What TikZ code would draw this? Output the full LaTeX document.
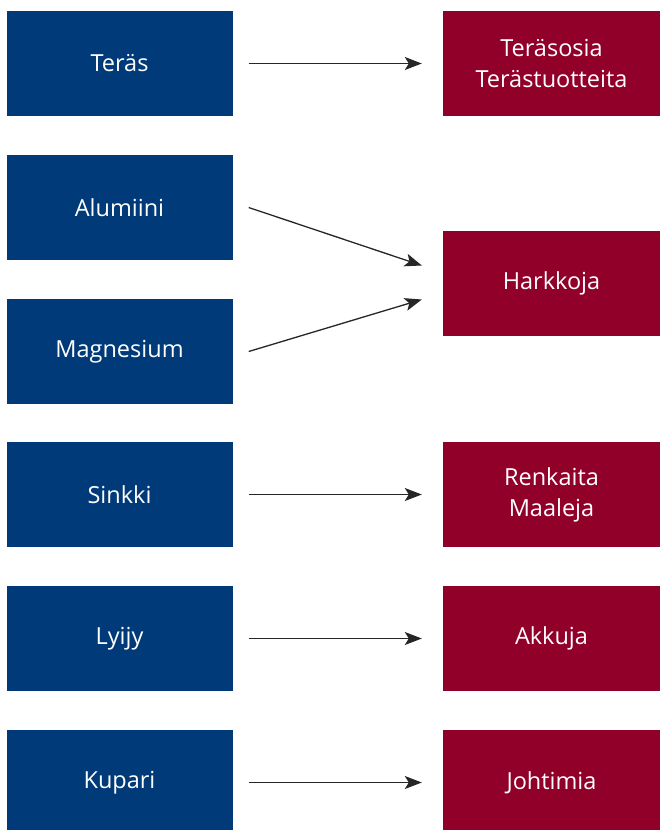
\documentclass[tikz,border=0pt]{standalone}
\usepackage{fontspec}
\setmainfont{Open Sans}
\usetikzlibrary{arrows.meta}
\definecolor{metalblue}{RGB}{0,58,120}
\definecolor{productred}{RGB}{145,0,41}
\tikzset{
    metal/.style={fill=metalblue,text=white,minimum width=226pt,minimum height=105pt,inner sep=0pt,align=center},
    product/.style={fill=productred,text=white,minimum width=217pt,minimum height=105pt,inner sep=0pt,align=center},
    flow/.style={-{Stealth[length=17pt,width=13pt,inset=4pt]},line width=1.3pt,black!85}
}
\begin{document}
\begin{tikzpicture}[x=1pt,y=-1pt,font=\fontsize{23.5}{31}\selectfont]
                \useasboundingbox (0,0) rectangle (660,830);
                \clip (0,0) rectangle (660,830);
                % raw materials
                \node[metal] (teras) at (119.5,63.5) {Teräs};
                \node[metal] (alumiini) at (119.5,207.5) {Alumiini};
                \node[metal] (magnesium) at (119.5,351.5) {Magnesium};
                \node[metal] (sinkki) at (119.5,494.5) {Sinkki};
                \node[metal] (lyijy) at (119.5,638.5) {Lyijy};
                \node[metal] (kupari) at (119.5,782.5) {Kupari};
                % products
                \node[product] (terasosia) at (551.5,63.5) {Teräsosia\\Terästuotteita};
                \node[product] (harkkoja) at (551.5,283.5) {Harkkoja};
                \node[product] (renkaita) at (551.5,494.5) {Renkaita\\Maaleja};
                \node[product] (akkuja) at (551.5,638.5) {Akkuja};
                \node[product] (johtimia) at (551.5,782.5) {Johtimia};
                % arrows
                \draw[flow,shorten <=16pt,shorten >=21pt] (teras.east) -- (terasosia.west);
                \draw[flow] ([xshift=16pt]alumiini.east) -- ([xshift=-21pt,yshift=18pt]harkkoja.west);
                \draw[flow] ([xshift=16pt]magnesium.east) -- ([xshift=-21pt,yshift=-16pt]harkkoja.west);
                \draw[flow,shorten <=16pt,shorten >=21pt] (sinkki.east) -- (renkaita.west);
                \draw[flow,shorten <=16pt,shorten >=21pt] (lyijy.east) -- (akkuja.west);
                \draw[flow,shorten <=16pt,shorten >=21pt] (kupari.east) -- (johtimia.west);
            \end{tikzpicture}
\end{document}
